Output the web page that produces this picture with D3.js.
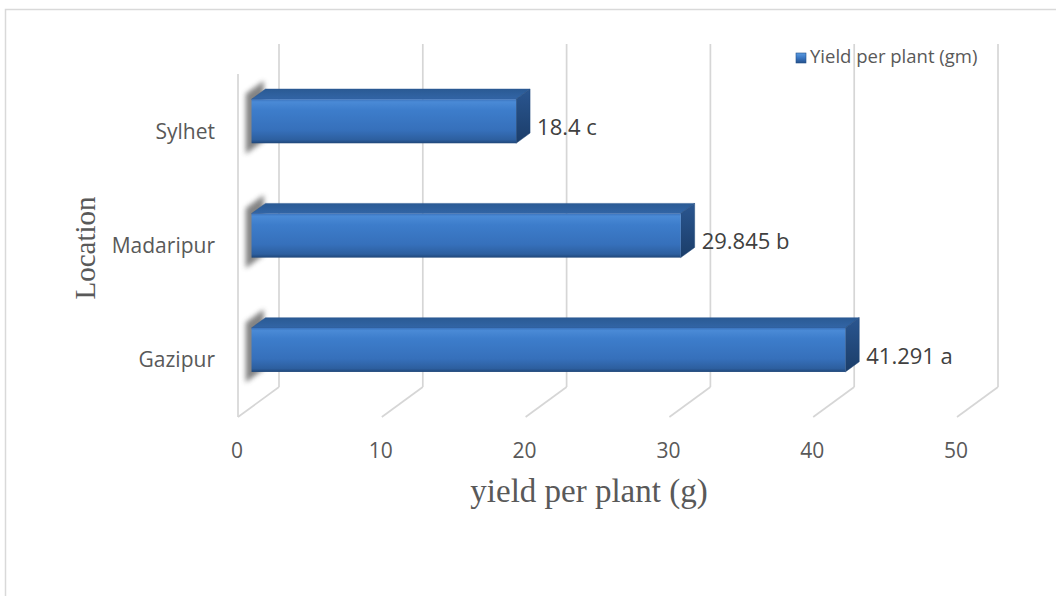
<!DOCTYPE html>
<html>
<head>
<meta charset="utf-8">
<script src="https://cdn.jsdelivr.net/npm/d3@7"></script>
<style>
  html, body { margin: 0; padding: 0; background: #ffffff; }
  svg { display: block; }
</style>
</head>
<body>
<svg id="chart" width="1056" height="596"></svg>
<script>
// Yield per plant by location
const categories = ["Sylhet", "Madaripur", "Gazipur"];
const yieldValues = [18.4, 29.845, 41.291];
const significance = ["c", "b", "a"];
const xTicks = [0, 10, 20, 30, 40, 50];
const seriesName = "Yield per plant (gm)";
const xTitle = "yield per plant (g)";
const yTitle = "Location";

const svg = d3.select("#chart");

// Front plane of the 3D plot box
const frontLeft = 238, frontTop = 74, frontBottom = 417, frontWidth = 719;
// Depth offset of the back wall relative to the front plane
const depthDX = 41, depthDY = -30;
// Bars sit in the middle third of the depth
const d0 = 0.33, d1 = 0.67;

const x = d3.scaleLinear().domain([0, 50]).range([frontLeft, frontLeft + frontWidth]);
const y = d3.scaleBand().domain(categories).range([frontTop, frontBottom])
  .paddingInner(0.615).paddingOuter(0.3075);

const proj = (px, py, d) => [px + d * depthDX, py + d * depthDY];
const sans = "'Open Sans', sans-serif";
const serif = "'Liberation Serif', 'Times New Roman', serif";

// Outer chart border
svg.append("rect")
  .attr("x", 5.5).attr("y", 9.5).attr("width", 1200).attr("height", 1000)
  .attr("fill", "none").attr("stroke", "#d9d9d9").attr("stroke-width", 1.5);

const defs = svg.append("defs");
const gFront = defs.append("linearGradient").attr("id", "barFront")
  .attr("x1", 0).attr("y1", 0).attr("x2", 0).attr("y2", 1);
[[0, "#3b73bd"], [0.06, "#4a8ad6"], [0.25, "#3d7dcb"], [0.7, "#3670bb"], [0.92, "#2d5f9f"], [1, "#1f4678"]]
  .forEach(([o, c]) => gFront.append("stop").attr("offset", o).attr("stop-color", c));
const gTop = defs.append("linearGradient").attr("id", "barTop")
  .attr("x1", 0).attr("y1", 0).attr("x2", 0).attr("y2", 1);
[[0, "#2a5a94"], [1, "#3265a6"]]
  .forEach(([o, c]) => gTop.append("stop").attr("offset", o).attr("stop-color", c));
const gSide = defs.append("linearGradient").attr("id", "barSide")
  .attr("x1", 0).attr("y1", 0).attr("x2", 0).attr("y2", 1);
[[0, "#2a5690"], [1, "#1b3d69"]]
  .forEach(([o, c]) => gSide.append("stop").attr("offset", o).attr("stop-color", c));
defs.append("filter").attr("id", "softShadow")
  .attr("x", "-100%").attr("y", "-50%").attr("width", "300%").attr("height", "200%")
  .append("feGaussianBlur").attr("stdDeviation", 2.5);
const gLeg = defs.append("linearGradient").attr("id", "legendSwatch")
  .attr("x1", 0).attr("y1", 0).attr("x2", 0).attr("y2", 1);
[[0, "#5b9be0"], [0.5, "#3a76c2"], [1, "#24508a"]]
  .forEach(([o, c]) => gLeg.append("stop").attr("offset", o).attr("stop-color", c));

// Gridlines on the back wall and their traces across the floor
const grid = svg.append("g").attr("stroke", "#d6d6d6").attr("stroke-width", 1.7).attr("fill", "none");
xTicks.forEach(t => {
  const [bx, by] = proj(x(t), frontTop, 1);
  const [bxb, byb] = proj(x(t), frontBottom, 1);
  grid.append("line").attr("x1", bx).attr("y1", by).attr("x2", bxb).attr("y2", byb);
  grid.append("line").attr("x1", bxb).attr("y1", byb).attr("x2", x(t)).attr("y2", frontBottom);
});
// Front edge of the left wall
grid.append("line").attr("x1", x(0)).attr("y1", frontTop).attr("x2", x(0)).attr("y2", frontBottom);

// Bars
const bars = svg.append("g");
const poly = pts => pts.map(p => p.join(",")).join(" ");
categories.forEach((cat, i) => {
  const v = yieldValues[i];
  const top = y(cat), bot = y(cat) + y.bandwidth();
  const xl = x(0), xr = x(v);
  const g = bars.append("g");

  // Soft shadow against the left wall
  g.append("polygon")
    .attr("points", poly([proj(xl - 5, top - 6, d0 - 0.02), proj(xl - 5, top - 6, d1 + 0.08),
                          proj(xl - 5, bot + 10, d1 + 0.08), proj(xl - 5, bot + 10, d0 - 0.02)]))
    .attr("fill", "#6e6e6e").attr("opacity", 0.85).attr("filter", "url(#softShadow)");

  const ftl = proj(xl, top, d0), ftr = proj(xr, top, d0);
  const fbr = proj(xr, bot, d0), fbl = proj(xl, bot, d0);
  const btl = proj(xl, top, d1), btr = proj(xr, top, d1), bbr = proj(xr, bot, d1);

  g.append("polygon").attr("points", poly([ftl, ftr, btr, btl]))
    .attr("fill", "url(#barTop)").attr("stroke", "#2a5690").attr("stroke-width", 0.5);
  g.append("polygon").attr("points", poly([ftr, btr, bbr, fbr]))
    .attr("fill", "url(#barSide)").attr("stroke", "#1f4678").attr("stroke-width", 0.5);
  g.append("rect")
    .attr("x", ftl[0]).attr("y", ftl[1])
    .attr("width", ftr[0] - ftl[0]).attr("height", fbl[1] - ftl[1])
    .attr("fill", "url(#barFront)");

  // Value label with significance letter
  svg.append("text")
    .attr("x", btr[0] + 7).attr("y", (ftr[1] + fbr[1]) / 2 + 8)
    .attr("dominant-baseline", "middle")
    .attr("font-family", sans).attr("font-size", 22)
    .attr("fill", "#404040")
    .text(`${v} ${significance[i]}`);
});

// Category labels
svg.append("g").selectAll("text").data(categories).join("text")
  .attr("x", 215).attr("y", d => y(d) + y.bandwidth() / 2 + 2)
  .attr("text-anchor", "end").attr("dominant-baseline", "middle")
  .attr("font-family", sans).attr("font-size", 21)
  .attr("fill", "#595959")
  .text(d => d);

// Value axis tick labels
svg.append("g").selectAll("text").data(xTicks).join("text")
  .attr("x", d => x(d) - 1).attr("y", 452)
  .attr("text-anchor", "middle").attr("dominant-baseline", "middle")
  .attr("font-family", sans).attr("font-size", 21)
  .attr("fill", "#595959")
  .text(d => d);

// Axis titles
svg.append("text")
  .attr("x", 589).attr("y", 494)
  .attr("text-anchor", "middle").attr("dominant-baseline", "middle")
  .attr("font-family", serif).attr("font-size", 33)
  .attr("fill", "#595959")
  .text(xTitle);
svg.append("text")
  .attr("transform", "translate(88,248) rotate(-90)")
  .attr("text-anchor", "middle").attr("dominant-baseline", "middle")
  .attr("font-family", serif).attr("font-size", 29)
  .attr("fill", "#595959")
  .text(yTitle);

// Legend
const leg = svg.append("g").attr("transform", "translate(796,53)");
leg.append("rect").attr("width", 10).attr("height", 10)
  .attr("fill", "url(#legendSwatch)").attr("stroke", "#24508a").attr("stroke-width", 0.6);
leg.append("text").attr("x", 14).attr("y", 5)
  .attr("dominant-baseline", "middle")
  .attr("font-family", sans).attr("font-size", 18.5)
  .attr("fill", "#595959")
  .text(seriesName);
</script>
</body>
</html>
